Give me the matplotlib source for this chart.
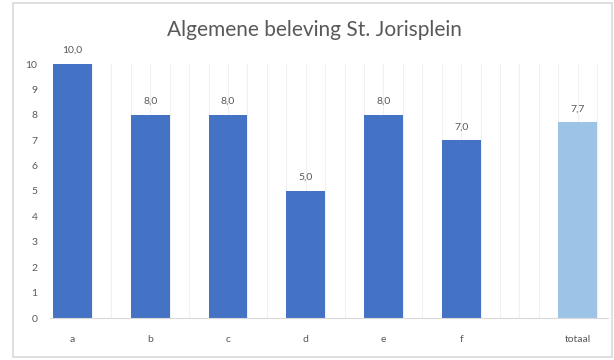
import numpy as np
import matplotlib
matplotlib.use("Agg")
import matplotlib.pyplot as plt
from matplotlib.patches import Rectangle

# data
categories = ["a", "b", "c", "d", "e", "f", "totaal"]
scores = [10.0, 8.0, 8.0, 5.0, 8.0, 7.0, 7.7]
title = "Algemene beleving St. Jorisplein"

plt.rcParams['font.family'] = ['Lato', 'DejaVu Sans']

fig = plt.figure(figsize=(6.14, 3.6), dpi=100)
fig.patch.set_facecolor("white")

# light grey chart frame like Excel
fig.patches.append(Rectangle((13 / 614, 3 / 360), 599 / 614, 354 / 360,
                             transform=fig.transFigure, fill=False,
                             edgecolor="#d9d9d9", linewidth=1.2))

ax = fig.add_axes([50 / 614, 42 / 360, 558 / 614, 254 / 360])

# the total sits half a slot further to the right
x = np.arange(len(categories), dtype=float)
x[-1] += 0.5
colors = ["#4472c4"] * (len(categories) - 1) + ["#9dc3e6"]

for g in np.arange(-0.25, 7.0, 0.25):
    ax.axvline(g, color="#f0f0f0", linewidth=0.8, zorder=0)

bars = ax.bar(x, scores, width=0.5, color=colors, zorder=2)
for b, v in zip(bars, scores):
    ax.text(b.get_x() + b.get_width() / 2, v + 0.35, f"{v:.1f}".replace(".", ","),
            ha="center", va="bottom", fontsize=7.5, color="#595959")

ax.set_xlim(-0.29, 6.89)
ax.set_ylim(0, 10)
ax.set_yticks(range(0, 11))
ax.set_xticks(x)
ax.set_xticklabels(categories)
ax.tick_params(axis="both", length=0, labelsize=7.5, colors="#595959")
ax.tick_params(axis="x", pad=12)
ax.tick_params(axis="y", pad=9)
for s in ["top", "right", "left"]:
    ax.spines[s].set_visible(False)
ax.spines["bottom"].set_color("#d9d9d9")

fig.text(314 / 614, 1 - 30 / 360, title, ha="center", va="center",
         fontsize=15, color="#595959")

fig.savefig("out.png", dpi=100)
